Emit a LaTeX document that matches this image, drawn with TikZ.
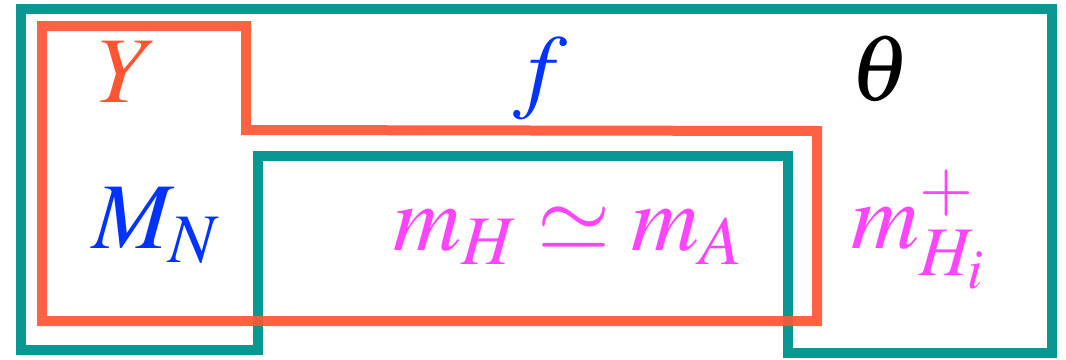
\documentclass[tikz,border=0pt]{standalone}
\usepackage{mathptmx}
\definecolor{tealframe}{HTML}{009490}
\definecolor{redframe}{HTML}{FF5533}
\definecolor{labblue}{HTML}{0033FF}
\definecolor{labmag}{HTML}{FF44FF}
\tikzset{
  frame/.style={line width=10pt, line join=miter},
  lab/.style={anchor=base, inner sep=0pt, font=\fontsize{94}{100}\selectfont},
}
\begin{document}
\begin{tikzpicture}[x=1pt,y=-1pt]
\useasboundingbox (0,0) rectangle (1066,359);
\draw[frame, tealframe, opacity=0.97] (21,9) -- (1052,9) -- (1052,353) -- (788,353) -- (788,156) -- (258,156) -- (258,350) -- (21,350) -- cycle;
\draw[frame, redframe, opacity=0.92] (42,26) -- (246,26) -- (246,130) -- (817,131) -- (817,321) -- (42,321) -- cycle;
\node[lab, text=redframe] (y) at (128,102) {$Y$};
\node[lab, text=labblue] (f) at (540,100) {$f$};
\node[lab, text=black] (th) at (880,100) {$\theta$};
\node[lab, text=labblue] (mn) at (156,248) {$M_N$};
\node[lab, text=labmag] (mh) at (568,250) {$m_H\simeq m_A$};
\node[lab, text=labmag] (mc) at (918,248) {$m_{H_i}^+$};
\end{tikzpicture}
\end{document}
